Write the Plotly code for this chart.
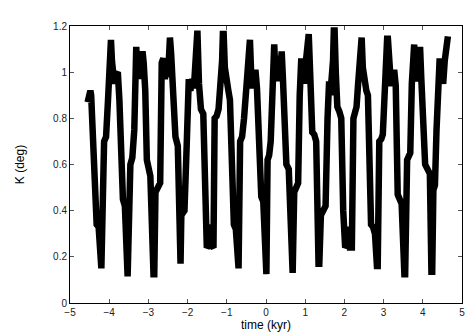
import plotly.graph_objects as go

# values, cycle by cycle
time_kyr = [
    -4.55, -4.52, -4.50, -4.48, -4.46, -4.36, -4.32, -4.27, -4.22, -4.20,
    -4.13, -4.08, -4.03, -4.00, -3.975, -3.955, -3.93, -3.90, -3.87, -3.83, -3.80, -3.78,
    -3.74, -3.69, -3.65, -3.60, -3.55, -3.53,
    -3.46, -3.41, -3.36, -3.33, -3.31, -3.29, -3.25, -3.21, -3.17, -3.15, -3.12, -3.08,
    -3.04, -3.00, -2.95, -2.87, -2.85,
    -2.82, -2.76, -2.70, -2.66, -2.62, -2.58, -2.54, -2.50, -2.47, -2.45, -2.42, -2.36,
    -2.31, -2.25, -2.20, -2.18,
    -2.16, -2.08, -2.02, -1.97, -1.93, -1.88, -1.84, -1.80, -1.77, -1.75, -1.71, -1.66,
    -1.60, -1.55, -1.51, -1.46, -1.43, -1.40, -1.34,
    -1.31, -1.26, -1.21, -1.16, -1.12, -1.10, -1.08, -1.05, -1.01, -0.96, -0.92, -0.86,
    -0.82, -0.77, -0.72, -0.70,
    -0.66, -0.61, -0.56, -0.52, -0.48, -0.45, -0.43, -0.41, -0.38, -0.34, -0.30, -0.27,
    -0.23, -0.18, -0.12, -0.07, -0.01, 0.01,
    0.04, 0.08, 0.12, 0.16, 0.19, 0.21, 0.24, 0.27, 0.30, 0.33, 0.36, 0.38, 0.40, 0.43,
    0.47, 0.52, 0.58, 0.66, 0.68,
    0.72, 0.77, 0.82, 0.86, 0.90, 0.94, 0.97, 1.02, 1.07, 1.09, 1.13, 1.18, 1.23, 1.28,
    1.34, 1.36,
    1.40, 1.46, 1.52, 1.57, 1.61, 1.64, 1.68, 1.71, 1.73, 1.75, 1.78, 1.82, 1.87, 1.92,
    1.97, 2.02, 2.06, 2.10, 2.14, 2.19,
    2.23, 2.27, 2.31, 2.35, 2.39, 2.42, 2.44, 2.47, 2.52, 2.56, 2.60, 2.64, 2.68, 2.73,
    2.78, 2.83, 2.85,
    2.89, 2.94, 2.98, 3.02, 3.06, 3.09, 3.11, 3.14, 3.19, 3.23, 3.27, 3.31, 3.36, 3.41,
    3.46, 3.53, 3.55,
    3.60, 3.64, 3.68, 3.72, 3.76, 3.78, 3.80, 3.83, 3.86, 3.89, 3.91, 3.93, 3.96, 4.01,
    4.06, 4.12, 4.18, 4.22, 4.24,
    4.27, 4.31, 4.35, 4.39, 4.43, 4.47, 4.52, 4.56, 4.60, 4.64,
]
k_deg = [
    0.87, 0.91, 0.92, 0.92, 0.90, 0.36, 0.34, 0.33, 0.15, 0.15,
    0.70, 0.72, 0.88, 1.02, 1.14, 1.14, 1.05, 0.96, 0.95, 0.99, 1.00, 1.00,
    0.88, 0.55, 0.45, 0.42, 0.115, 0.115,
    0.60, 0.63, 0.75, 1.10, 1.11, 1.00, 1.05, 0.97, 1.09, 1.09, 1.04, 0.92,
    0.62, 0.58, 0.55, 0.125, 0.125,
    0.48, 0.50, 0.52, 1.04, 1.06, 0.97, 1.02, 0.98, 1.15, 1.15, 1.08, 0.78,
    0.72, 0.68, 0.17, 0.17,
    0.38, 0.40, 0.70, 0.97, 0.92, 0.97, 0.93, 1.05, 1.18, 1.18, 0.95, 0.84,
    0.82, 0.45, 0.24, 0.25, 0.34, 0.25, 0.24,
    0.80, 0.81, 0.84, 0.92, 1.05, 1.165, 1.165, 1.02, 0.94, 0.92, 0.88, 0.42,
    0.34, 0.32, 0.15, 0.15,
    0.70, 0.72, 0.80, 0.96, 0.98, 1.05, 1.14, 1.14, 1.00, 0.93, 0.98, 1.01,
    0.93, 0.62, 0.46, 0.44, 0.125, 0.125,
    0.62, 0.64, 0.70, 0.98, 1.12, 1.12, 0.99, 1.07, 0.96, 1.04, 0.98, 1.09, 1.09, 0.98,
    0.80, 0.60, 0.58, 0.13, 0.13,
    0.48, 0.50, 0.52, 0.90, 1.06, 1.00, 0.95, 1.05, 1.165, 1.165, 0.98, 0.74, 0.73, 0.70,
    0.17, 0.17,
    0.38, 0.40, 0.42, 0.80, 0.96, 0.90, 0.98, 1.05, 1.18, 1.18, 1.00, 0.85, 0.83, 0.80,
    0.40, 0.24, 0.25, 0.33, 0.24, 0.24,
    0.80, 0.82, 0.85, 0.95, 1.05, 1.15, 1.15, 1.02, 0.94, 0.92, 0.90, 0.55, 0.34, 0.33,
    0.30, 0.16, 0.16,
    0.70, 0.71, 0.73, 0.95, 1.00, 1.145, 1.145, 1.05, 0.94, 0.98, 1.01, 0.94, 0.47, 0.45,
    0.43, 0.125, 0.125,
    0.62, 0.63, 0.65, 0.95, 1.12, 1.12, 1.00, 1.08, 0.96, 1.05, 1.11, 1.11, 0.98, 0.80,
    0.60, 0.58, 0.56, 0.135, 0.135,
    0.49, 0.51, 0.75, 0.98, 1.06, 1.00, 0.95, 1.05, 1.13, 1.155,
]

x_ticks = [-5, -4, -3, -2, -1, 0, 1, 2, 3, 4, 5]
y_ticks = [0, 0.2, 0.4, 0.6, 0.8, 1, 1.2]

fig = go.Figure()
fig.add_trace(go.Scatter(
    x=time_kyr, y=k_deg,
    mode='lines',
    line=dict(color='black', width=6.5),
    showlegend=False))

axis_style = dict(
    showline=True, linecolor='black', linewidth=1,
    mirror='ticks', ticks='inside', ticklen=4, tickcolor='#555555',
    showgrid=False, zeroline=False,
    tickfont=dict(family='Liberation Sans, Arial, sans-serif', size=10, color='#222222'),
)

fig.update_layout(
    width=474, height=332,
    margin=dict(l=54, r=20, t=14, b=32),
    paper_bgcolor='white', plot_bgcolor='white',
    font=dict(family='Liberation Sans, Arial, sans-serif', color='black'),
    xaxis=dict(range=[-5, 5], tickvals=x_ticks,
               title=dict(text='time (kyr)', font=dict(size=12), standoff=2),
               **axis_style),
    yaxis=dict(range=[0, 1.2], tickvals=y_ticks,
               title=dict(text='K (deg)', font=dict(size=12), standoff=25),
               **axis_style),
)

fig.write_html("out.html")
